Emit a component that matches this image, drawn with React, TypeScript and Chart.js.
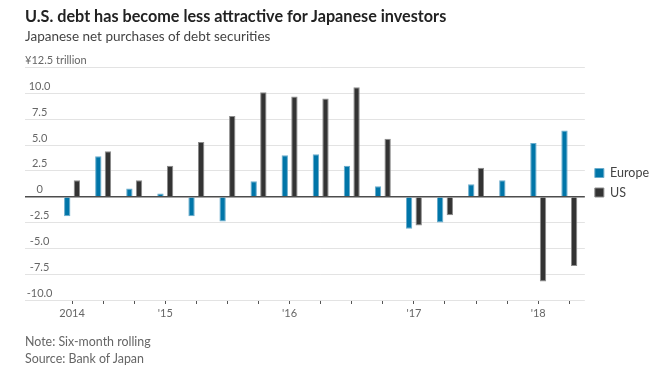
import React, { useEffect, useRef } from "react";
import { Chart, registerables } from "chart.js";

Chart.register(...registerables);

const categories = ["2014", "", "", "'15", "", "", "", "'16", "", "", "", "'17", "", "", "", "'18", ""];
const europe = [-1.9, 3.9, 0.8, 0.3, -1.9, -2.4, 1.5, 4.0, 4.1, 3.0, 1.0, -3.1, -2.5, 1.2, 1.6, 5.2, 6.4];
const us = [1.6, 4.4, 1.6, 3.0, 5.3, 7.8, 10.1, 9.7, 9.5, 10.6, 5.6, -2.8, -1.8, 2.8, -0.1, -8.2, -6.7];
const yTickValues = [-10, -7.5, -5, -2.5, 0, 2.5, 5, 7.5, 10, 12.5];
const yTickLabels = ["-10.0", "-7.5", "-5.0", "-2.5", "0", "2.5", "5.0", "7.5", "10.0", "¥12.5 trillion"];

const FONT = "Lato";
const GRID = "#e3e3e3";
const ZERO = "#4d4d4d";

const unitLabelPlugin = {
  id: "unitLabel",
  afterLayout(chart: any) {
    const lg = chart.legend;
    if (lg) {
      lg.bottom = chart.chartArea.bottom - 2;
      lg.height = lg.bottom - lg.top;
      lg.left += 3;
      lg.right += 3;
    }
  },
  afterDraw(chart: any) {
    const y = chart.scales.y;
    const ctx = chart.ctx;
    ctx.save();
    ctx.font = `11px ${FONT}`;
    ctx.fillStyle = "#666";
    ctx.textAlign = "left";
    ctx.textBaseline = "middle";
    const top = yTickValues[yTickValues.length - 1];
    ctx.fillText(yTickLabels[yTickLabels.length - 1], y.left, y.getPixelForValue(top) - 7);
    ctx.restore();
  },
};

export default function App() {
  const ref = useRef<HTMLCanvasElement>(null);
  useEffect(() => {
    if (!ref.current) return;
    const isZero = (c: any) => c.tick && c.tick.value === 0;
    const chart = new Chart(ref.current, {
      type: "bar",
      data: {
        labels: categories,
        datasets: [
          {
            label: "Europe",
            data: europe,
            backgroundColor: "#0075a8",
            borderColor: "#6aaccc",
            borderWidth: 1,
            categoryPercentage: 0.62,
            barPercentage: 0.66,
          },
          {
            label: "US",
            data: us,
            backgroundColor: "#333333",
            borderColor: "#8c8c8c",
            borderWidth: 1,
            categoryPercentage: 0.62,
            barPercentage: 0.66,
          },
        ],
      },
      options: {
        responsive: false,
        animation: false,
        layout: { padding: { left: 25, top: 67.5, bottom: 46, right: 7 } },
        plugins: {
          tooltip: { enabled: false },
          legend: {
            position: "right",
            labels: {
              boxWidth: 9,
              boxHeight: 9,
              padding: 7,
              color: "#444",
              font: { family: FONT, size: 12.5 },
            },
          },
        },
        scales: {
          x: {
            offset: true,
            grid: {
              display: true,
              drawOnChartArea: false,
              drawTicks: true,
              tickLength: 4,
              tickColor: "#555",
              offset: false,
            },
            border: { display: false },
            ticks: {
              autoSkip: false,
              maxRotation: 0,
              padding: 3,
              color: "#666",
              font: { family: FONT, size: 11 },
            },
            afterFit: (s: any) => {
              s.height = 30;
            },
          },
          y: {
            min: -10,
            max: 12.5,
            afterBuildTicks: (s: any) => {
              s.ticks = yTickValues.map((v) => ({ value: v }));
            },
            grid: {
              color: (c: any) => (isZero(c) ? ZERO : GRID),
              tickColor: (c: any) => (isZero(c) ? ZERO : GRID),
              lineWidth: (c: any) => (isZero(c) ? 1.5 : 1),
              drawTicks: true,
              tickLength: 31.5,
            },
            border: { display: false },
            ticks: {
              crossAlign: "center",
              padding: -27.5,
              labelOffset: -7,
              color: "#666",
              font: { family: FONT, size: 11 },
              callback: (v: any) => {
                const i = yTickValues.indexOf(Number(v));
                if (i === yTickValues.length - 1) return "";
                return i >= 0 ? yTickLabels[i] : "";
              },
            },
            afterFit: (s: any) => {
              s.width = 31.5;
            },
          },
        },
      },
      plugins: [unitLabelPlugin],
    } as any);
    return () => chart.destroy();
  }, []);

  const text = (top: number, size: number, weight: number, color: string, content: string) => (
    <div
      style={{
        position: "absolute",
        left: 25,
        top,
        fontFamily: FONT,
        fontSize: size,
        fontWeight: weight,
        color,
        lineHeight: `${Math.round(size) + 4}px`,
        whiteSpace: "nowrap",
      }}
    >
      {content}
    </div>
  );

  return (
    <div style={{ position: "fixed", left: 0, top: 0, width: 663, height: 376, background: "#fff" }}>
      <canvas ref={ref} width={663} height={376} style={{ display: "block" }} />
      {text(6, 16.2, 700, "#222", "U.S. debt has become less attractive for Japanese investors")}
      {text(27, 13.5, 400, "#444", "Japanese net purchases of debt securities")}
      {text(334, 12.4, 400, "#666", "Note: Six-month rolling")}
      {text(351, 12.4, 400, "#666", "Source: Bank of Japan")}
    </div>
  );
}
